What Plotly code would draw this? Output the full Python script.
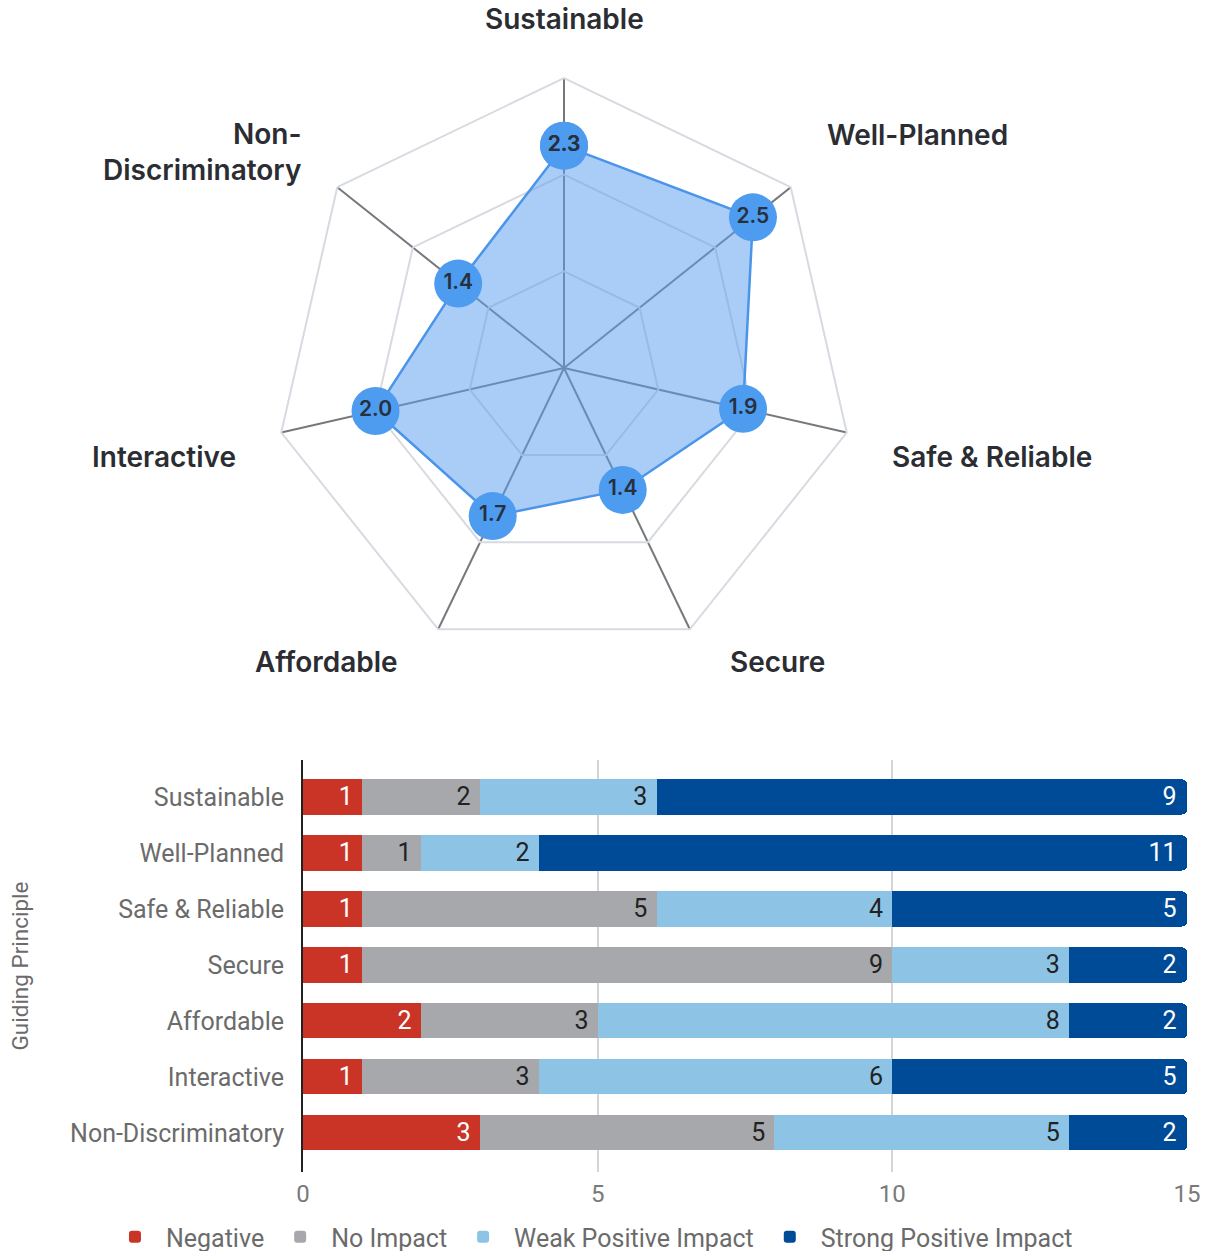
import math
import plotly.graph_objects as go

# Guiding principles, clockwise from the top of the radar
principles = ["Sustainable", "Well-Planned", "Safe & Reliable", "Secure",
              "Affordable", "Interactive", "Non-Discriminatory"]
principle_labels = ["Sustainable", "Well-Planned", "Safe & Reliable", "Secure",
                    "Affordable", "Interactive", "Non-<br>Discriminatory"]
average_scores = [2.3, 2.5, 1.9, 1.4, 1.7, 2.0, 1.4]

# Impact counts per principle
impact_levels = ["Negative", "No Impact", "Weak Positive Impact", "Strong Positive Impact"]
negative = [1, 1, 1, 1, 2, 1, 3]
no_impact = [2, 1, 5, 9, 3, 3, 5]
weak_positive = [3, 2, 4, 3, 8, 6, 5]
strong_positive = [9, 11, 5, 2, 2, 5, 2]

impact_colors = ["#c93427", "#a6a8ab", "#8dc4e6", "#004b98"]
label_colors = ["#ffffff", "#222222", "#222222", "#ffffff"]

W, H = 1211, 1251
# Radar geometry (pixels): centre and outer radius of the polar domain
CX, CY, R = 564, 368, 290
LABEL_DIST = 334
LINE_HALF = 15
# small per-label offsets (px) so the lower and two-line names clear the frame
LABEL_SHIFT = {"Well-Planned": (0, 10), "Secure": (19, 22),
               "Affordable": (-19, 22), "Non-Discriminatory": (0, -22)}

fig = go.Figure()

# Radar of average scores
theta_closed = principles + principles[:1]
r_closed = average_scores + average_scores[:1]
fig.add_trace(go.Scatterpolar(
    r=r_closed,
    theta=theta_closed,
    mode="lines+markers+text",
    fill="toself",
    fillcolor="rgba(92,160,240,0.52)",
    line=dict(color="#4a94ea", width=2.5),
    marker=dict(size=48, color="#4d9cf0", line=dict(width=0)),
    text=[f"{v:.1f}" for v in r_closed],
    textposition="middle center",
    textfont=dict(family="Inter", size=21, color="#27303c", weight=600),
    showlegend=False,
    hoverinfo="skip",
))

# Stacked horizontal bars of impact counts
for name, values, color, tcolor in zip(
        impact_levels, [negative, no_impact, weak_positive, strong_positive],
        impact_colors, label_colors):
    fig.add_trace(go.Bar(
        y=principles,
        x=values,
        name=name,
        orientation="h",
        marker=dict(color=color, line=dict(width=0)),
        width=0.63,
        text=values,
        texttemplate="%{x}\u00a0",
        textposition="inside",
        insidetextanchor="end",
        textangle=0,
        constraintext="none",
        textfont=dict(family="Roboto", size=25, color=tcolor),
        xaxis="x", yaxis="y",
    ))

# Principle names around the radar, anchored by the side they sit on
annotations = []
n = len(principles)
for i, (name, label) in enumerate(zip(principles, principle_labels)):
    a = 2 * math.pi * i / n
    s, c = math.sin(a), math.cos(a)
    lines = label.count("<br>") + 1
    px = CX + LABEL_DIST * s
    py = CY - LABEL_DIST * c
    if abs(c) > 0.05:
        py -= math.copysign(LINE_HALF * lines, c)
    xanchor = "center" if abs(s) < 0.05 else ("left" if s > 0 else "right")
    dx, dy = LABEL_SHIFT.get(name, (0, 0))
    annotations.append(dict(
        text=label, x=(px + dx) / W, y=1 - (py - dy) / H,
        xref="paper", yref="paper",
        xanchor=xanchor, yanchor="middle", showarrow=False,
        align="right" if xanchor == "right" else "left",
        font=dict(family="Inter", size=28, color="#2b2d33", weight=600),
    ))

fig.update_layout(
    width=W,
    height=H,
    margin=dict(l=0, r=0, t=0, b=0, autoexpand=False),
    paper_bgcolor="white",
    plot_bgcolor="white",
    barmode="stack",
    barcornerradius=5,
    font=dict(family="Roboto", color="#6b6b6b"),
    annotations=annotations,
    polar=dict(
        domain=dict(x=[(CX - R) / W, (CX + R) / W],
                    y=[1 - (CY + R) / H, 1 - (CY - R) / H]),
        gridshape="linear",
        bgcolor="rgba(0,0,0,0)",
        angularaxis=dict(
            direction="clockwise",
            rotation=90,
            type="category",
            categoryarray=principles,
            showticklabels=False,
            ticks="",
            showgrid=True,
            gridcolor="#75787d",
            gridwidth=2,
            showline=True,
            linecolor="#d7dae0",
            linewidth=2,
            layer="below traces",
        ),
        radialaxis=dict(
            range=[0, 3],
            tickvals=[1, 2, 3],
            showticklabels=False,
            ticks="",
            showline=False,
            showgrid=True,
            gridcolor="#d7dae0",
            gridwidth=2,
            layer="below traces",
        ),
    ),
    xaxis=dict(
        domain=[303 / W, 1187 / W],
        anchor="y",
        range=[0, 15],
        tickvals=[0, 5, 10, 15],
        showgrid=True,
        gridcolor="#d5d5d5",
        gridwidth=1.5,
        zeroline=False,
        showline=False,
        ticks="",
        ticklabelstandoff=5,
        tickfont=dict(family="Roboto", size=24, color="#7a7a7a"),
    ),
    yaxis=dict(
        domain=[1 - 1172 / H, 1 - 760 / H],
        anchor="x",
        type="category",
        categoryarray=principles,
        range=[6.7, -0.66],
        showgrid=False,
        zeroline=False,
        showline=True,
        linecolor="#222222",
        linewidth=2,
        ticks="",
        ticklabelstandoff=12,
        tickfont=dict(family="Roboto", size=25, color="#6b6b6b"),
        title=dict(text="Guiding Principle", standoff=35,
                   font=dict(family="Roboto", size=22.5, color="#6b6b6b")),
    ),
    legend=dict(
        orientation="h",
        x=0.488,
        xanchor="center",
        y=1 - 1237 / H,
        yanchor="middle",
        itemwidth=52,
        font=dict(family="Roboto", size=25, color="#6b6b6b"),
        traceorder="normal",
        itemclick=False,
    ),
)

fig.write_html("out.html")
